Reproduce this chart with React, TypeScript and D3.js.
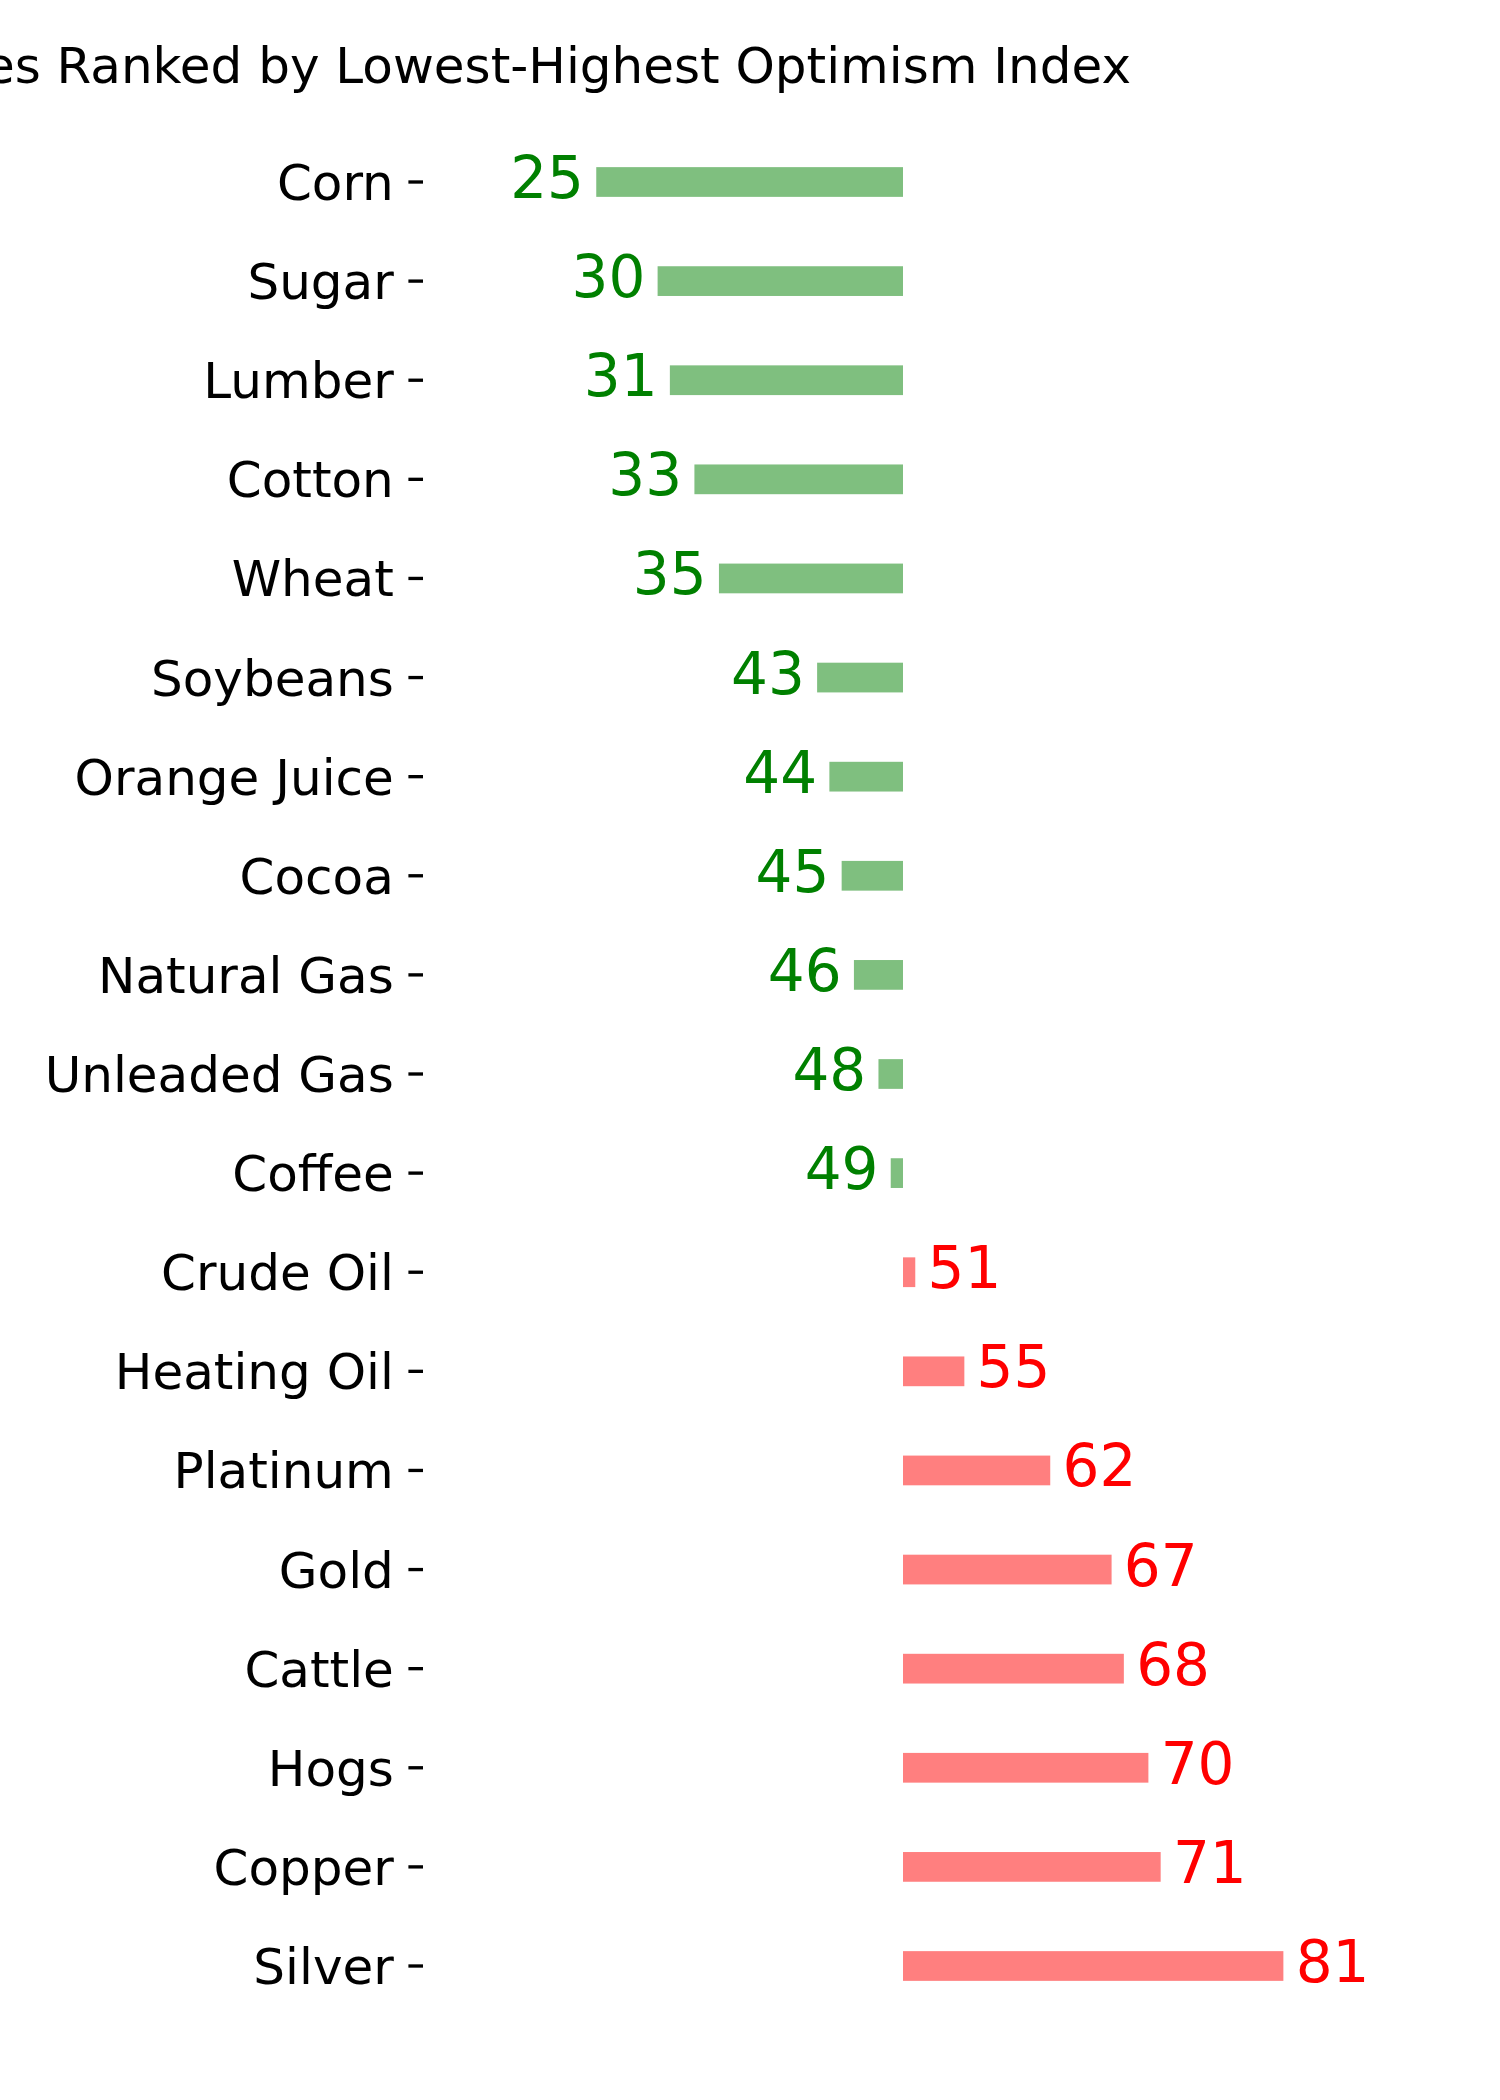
import React from 'react';
import * as d3 from 'd3';

// commodities, lowest optimism first
const commodities = [
  'Corn', 'Sugar', 'Lumber', 'Cotton', 'Wheat', 'Soybeans', 'Orange Juice', 'Cocoa',
  'Natural Gas', 'Unleaded Gas', 'Coffee', 'Crude Oil', 'Heating Oil', 'Platinum',
  'Gold', 'Cattle', 'Hogs', 'Copper', 'Silver',
];
const optimism = [25, 30, 31, 33, 35, 43, 44, 45, 46, 48, 49, 51, 55, 62, 67, 68, 70, 71, 81];
const neutral = 50;
const title = 'Commodities Ranked by Lowest-Highest Optimism Index';

const width = 1500;
const height = 2100;
const font = '"DejaVu Sans", sans-serif';

const App = () => {
  const x = d3.scaleLinear().domain([10, 90]).range([412.2, 1393.8]);
  const y = d3.scalePoint<string>().domain(commodities).range([182, 1966]);
  const barH = y.step() * 0.3;
  const axisX = 423;
  const unit = x(1) - x(0);

  return (
    <svg width={width} height={height} style={{ position: 'absolute', left: 0, top: 0, background: '#fff' }}
      fontFamily={font}>
      <text x={1131} y={83} fontSize={50} textAnchor="end" fill="#000">{title}</text>

      {/* y axis ticks + labels */}
      {commodities.map(c => (
        <g key={c} transform={`translate(0,${y(c)})`}>
          <line x1={axisX - 14.6} x2={axisX} y1={0} y2={0} stroke="#000" strokeWidth={3.33} />
          <text x={axisX - 29.2} y={18} fontSize={50} textAnchor="end" fill="#000">{c}</text>
        </g>
      ))}

      {/* bars relative to the neutral 50 line */}
      {commodities.map((c, i) => {
        const v = optimism[i];
        const low = v < neutral;
        const x0 = x(Math.min(v, neutral));
        const x1 = x(Math.max(v, neutral));
        const cy = y(c)!;
        return (
          <g key={c + '-bar'}>
            <rect x={x0} y={cy - barH / 2} width={x1 - x0} height={barH}
              fill={low ? 'green' : 'red'} fillOpacity={0.5} />
            <text x={low ? x(v) - unit : x(v) + unit} y={cy + 16} fontSize={58}
              textAnchor={low ? 'end' : 'start'} fill={low ? 'green' : 'red'}>{v}</text>
          </g>
        );
      })}
    </svg>
  );
};

export default App;
